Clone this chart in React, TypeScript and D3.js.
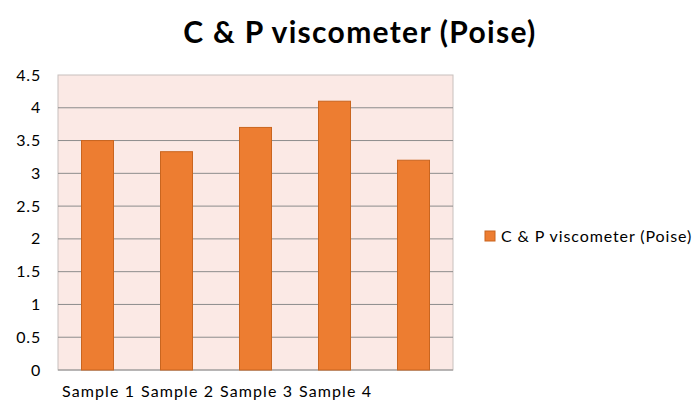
import React from "react";
import * as d3 from "d3";

const categories = ["Sample 1", "Sample 2", "Sample 3", "Sample 4", "Sample 5"];
const axisLabels = ["Sample 1", "Sample 2", "Sample 3", "Sample 4", ""];
const values = [3.5, 3.33, 3.7, 4.1, 3.2];
const yTicks = [0, 0.5, 1, 1.5, 2, 2.5, 3, 3.5, 4, 4.5];
const seriesName = "C & P viscometer (Poise)";

const width = 700,
  height = 405;
const plot = { left: 58, right: 453, top: 75, bottom: 370 };
const font = "Lato, 'Open Sans', sans-serif";

export default function App() {
  const x = d3
    .scaleBand()
    .domain(categories)
    .range([plot.left, plot.right])
    .paddingInner(0.595)
    .paddingOuter(0.2975);

  const y = d3.scaleLinear().domain([0, 4.5]).range([plot.bottom, plot.top]);

  return (
    <svg
      width={width}
      height={height}
      style={{ position: "absolute", left: 0, top: 0, background: "#fff" }}
      fontFamily={font}
    >
      <text x={360} y={43} textAnchor="middle" fontSize={30} fontWeight="bold" letterSpacing={1.3} fill="#000">
        {seriesName}
      </text>

      <rect
        x={plot.left}
        y={plot.top}
        width={plot.right - plot.left}
        height={plot.bottom - plot.top}
        fill="#fbe9e5"
        stroke="#c8c0bd"
      />

      {yTicks.map((t) => (
        <g key={t}>
          {t > 0 && t < 4.5 && (
            <line x1={plot.left} x2={plot.right} y1={y(t)} y2={y(t)} stroke="#8c8c8c" strokeWidth={1} />
          )}
          <text x={41} y={y(t)} dy="0.35em" textAnchor="end" fontSize={16} letterSpacing={0.8} fill="#000">
            {t}
          </text>
        </g>
      ))}

      <line x1={plot.left} x2={plot.right} y1={plot.bottom} y2={plot.bottom} stroke="#8c8c8c" />

      {categories.map((c, i) => (
        <rect
          key={c}
          x={x(c)}
          y={y(values[i])}
          width={x.bandwidth()}
          height={y(0) - y(values[i])}
          fill="#ed7d31"
          stroke="#c9651f"
          strokeWidth={1}
        />
      ))}

      {categories.map((c, i) => (
        <text
          key={c}
          x={(x(c) as number) - x.step() * 0.2975 + 4}
          y={397}
          fontSize={16}
          letterSpacing={1.1}
          fill="#000"
        >
          {axisLabels[i]}
        </text>
      ))}

      <rect x={485} y={231} width={10} height={10} fill="#ed7d31" stroke="#c9651f" />
      <text x={501} y={242} fontSize={16} letterSpacing={0.9} fill="#000">
        {seriesName}
      </text>
    </svg>
  );
}
